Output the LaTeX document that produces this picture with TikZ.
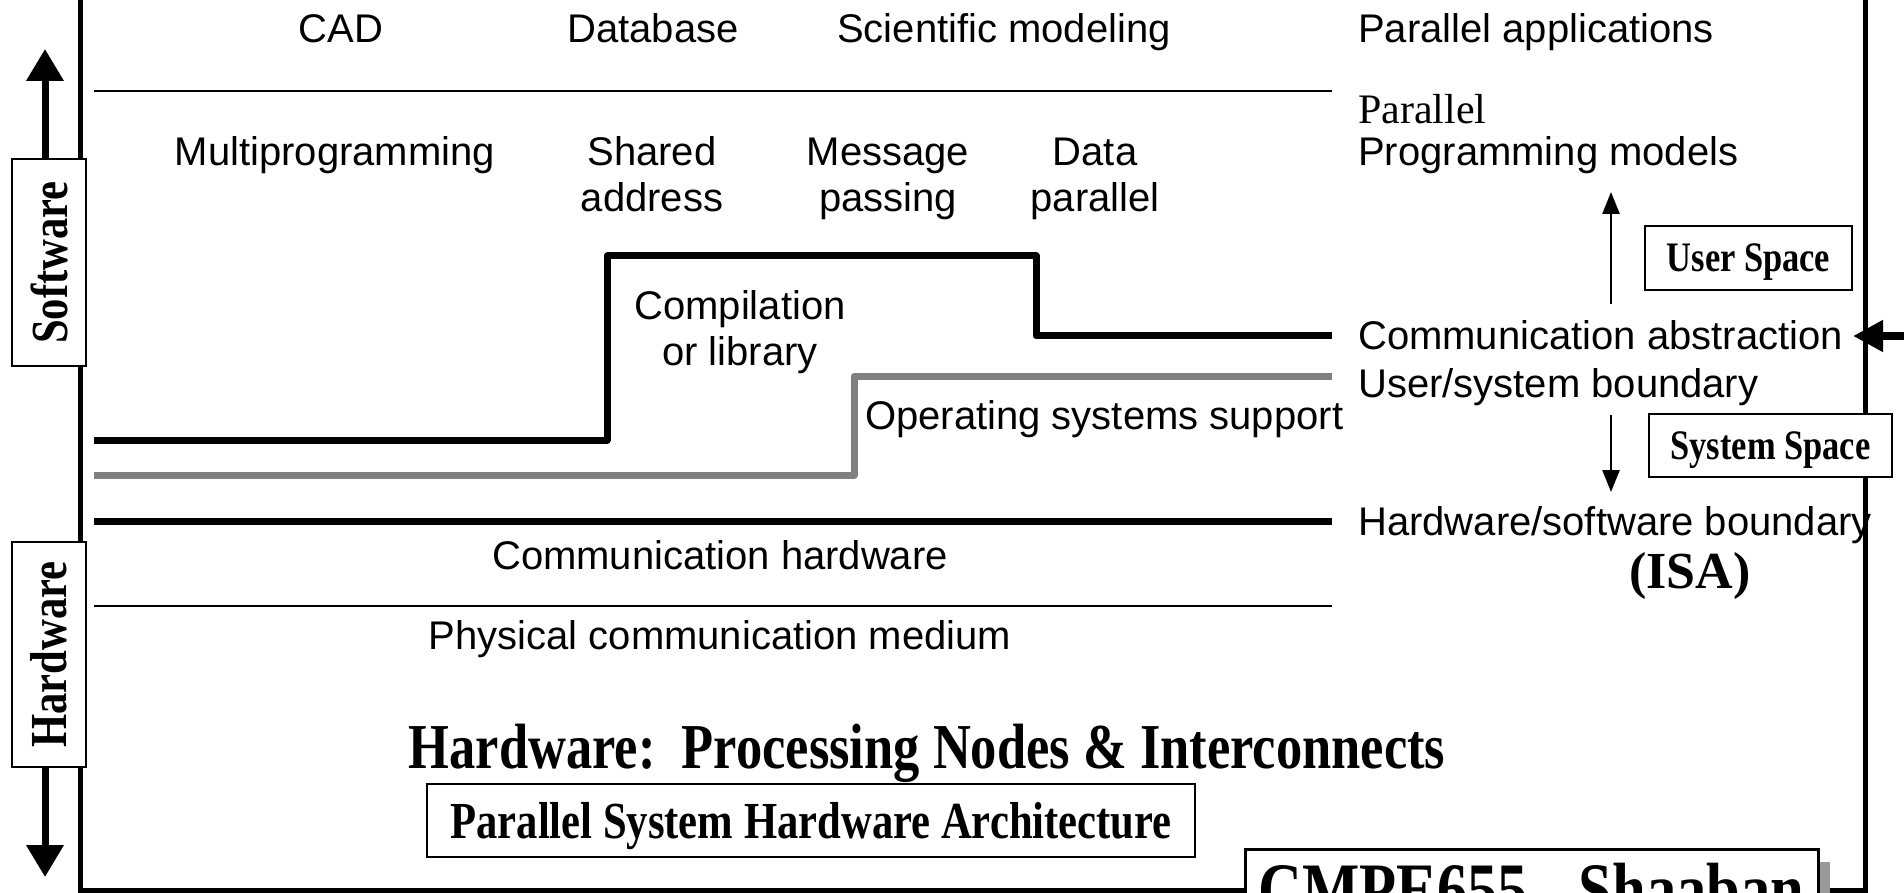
\documentclass[tikz,border=0pt]{standalone}
\usepackage{fontspec}
\setmainfont{Liberation Serif}
\newfontfamily\sansf{Liberation Sans}
\newfontfamily\condf{Liberation Serif}[FakeStretch=0.82]
\usetikzlibrary{arrows.meta,shadows}
\definecolor{linegray}{HTML}{808080}
\tikzset{
  lbl/.style={font=\sansf\fontsize{40}{46}\selectfont, inner sep=0pt},
  cb/.style={font=\condf\bfseries\fontsize{#1}{#1}\selectfont},
  thickline/.style={line width=7pt, line join=round},
  grayline/.style={line width=7pt, draw=linegray, line join=round},
  thinline/.style={line width=2pt},
  frameline/.style={line width=5pt},
  boxed/.style={draw, line width=2.5pt, fill=white, inner sep=0pt},
  bigarrow/.style={line width=7pt, -{Triangle[length=32pt,width=36pt]}},
  sidearrow/.style={line width=8pt, -{Triangle[length=30pt,width=30pt]}},
  smallarrow/.style={line width=2.5pt, -{Triangle[length=22pt,width=17pt]}}
}
\begin{document}
\begin{tikzpicture}[x=1pt,y=-1pt]
\useasboundingbox (0,0) rectangle (1904,893);
\clip (0,0) rectangle (1904,893);
\fill[white] (0,0) rectangle (1904,893);
% frame
\draw[frameline] (80,-10) -- (80,890) -- (1865,890) -- (1865,-10);
% layer lines
\coordinate (a1) at (94,91);   \coordinate (a2) at (1332,91);
\coordinate (b1) at (94,440);  \coordinate (b2) at (607,256);
\coordinate (b3) at (1036,336); \coordinate (b4) at (1332,336);
\coordinate (g1) at (94,475);  \coordinate (g2) at (854,376); \coordinate (g3) at (1332,376);
\coordinate (h1) at (94,521);  \coordinate (h2) at (1332,521);
\coordinate (p1) at (94,606);  \coordinate (p2) at (1332,606);
\draw[thinline] (a1) -- (a2);
\draw[thickline] (b1) -| (b2) -| (b3) -- (b4);
\draw[grayline] (g1) -| (g2) -- (g3);
\draw[thickline] (h1) -- (h2);
\draw[thinline] (p1) -- (p2);
% texts
\node[lbl, anchor=base] (cad) at (341,43) {CAD};
\node[lbl, anchor=base] (db) at (653,43) {Database};
\node[lbl, anchor=base] (sci) at (1004,43) {Scientific modeling};
\node[lbl, anchor=base west] (papp) at (1358,43) {Parallel applications};
\node[lbl, anchor=base] (mp) at (335,166) {Multiprogramming};
\node[lbl, anchor=base, align=center] (sa) at (652,212) {Shared\\address};
\node[lbl, anchor=base, align=center] (mpass) at (888,212) {Message\\passing};
\node[lbl, anchor=base, align=center] (dp) at (1095,212) {Data\\parallel};
\node[lbl, anchor=base west, align=left] (ppm) at (1358,166) {{\rmfamily\fontsize{42}{42}\selectfont Parallel}\\[-4pt]Programming models};
\node[lbl, anchor=base, align=center] (comp) at (740,366) {Compilation\\or library};
\node[lbl, anchor=base west] (oss) at (865,429) {Operating systems support};
\node[lbl, anchor=base west] (comm) at (1358,350) {Communication abstraction};
\node[lbl, anchor=base west] (usb) at (1358,397) {User/system boundary};
\node[lbl, anchor=base west] (hsb) at (1358,535) {Hardware/software boundary};
\node[font=\rmfamily\bfseries\fontsize{52}{52}\selectfont, inner sep=0pt, anchor=base] (isa) at (1690,588) {(ISA)};
\node[lbl, anchor=base] (chw) at (720,569) {Communication hardware};
\node[lbl, anchor=base] (pcm) at (720,649) {Physical communication medium};
% user / system space
\coordinate (upS) at (1611,304); \coordinate (upE) at (1611,192);
\coordinate (dnS) at (1611,415); \coordinate (dnE) at (1611,492);
\draw[smallarrow] (upS) -- (upE);
\draw[smallarrow] (dnS) -- (dnE);
\node[boxed, cb=42, text depth=0pt, minimum width=207pt, minimum height=64pt] (us) at (1748.5,258) {User Space};
\node[boxed, cb=42, text depth=0pt, minimum width=243pt, minimum height=63pt] (ss) at (1770.5,445.5) {System Space};
\coordinate (caR) at (1912,336); \coordinate (caT) at (1853,336);
\draw[sidearrow] (caR) -- (caT);
% software / hardware side boxes
\node[boxed, rotate=90, cb=52, minimum width=207pt, minimum height=74pt] (sw) at (49,262.5) {Software};
\node[boxed, rotate=90, cb=52, minimum width=225pt, minimum height=74pt] (hw) at (49,654.5) {Hardware};
\coordinate (swtip) at (45,49);
\coordinate (hwtip) at (45,877);
\draw[bigarrow] (sw.east -| swtip) -- (swtip);
\draw[bigarrow] (hw.west -| hwtip) -- (hwtip);
% bottom
\node[cb=64, anchor=base, inner sep=0pt] (hwpn) at (927,768) {Hardware:\ \ Processing Nodes \& Interconnects};
\node[boxed, cb=52, text depth=0pt, minimum width=768pt, minimum height=73pt] (psha) at (811,820.5) {Parallel System Hardware Architecture};
\node[boxed, line width=3pt, cb=74, anchor=north, minimum width=573pt, inner ysep=15pt, text height=50pt, text depth=0pt,
      general shadow={fill=black!40, shadow xshift=12pt, shadow yshift=-12pt}] (cmpe) at (1531.5,848) {CMPE655 - Shaaban};
\end{tikzpicture}
\end{document}
